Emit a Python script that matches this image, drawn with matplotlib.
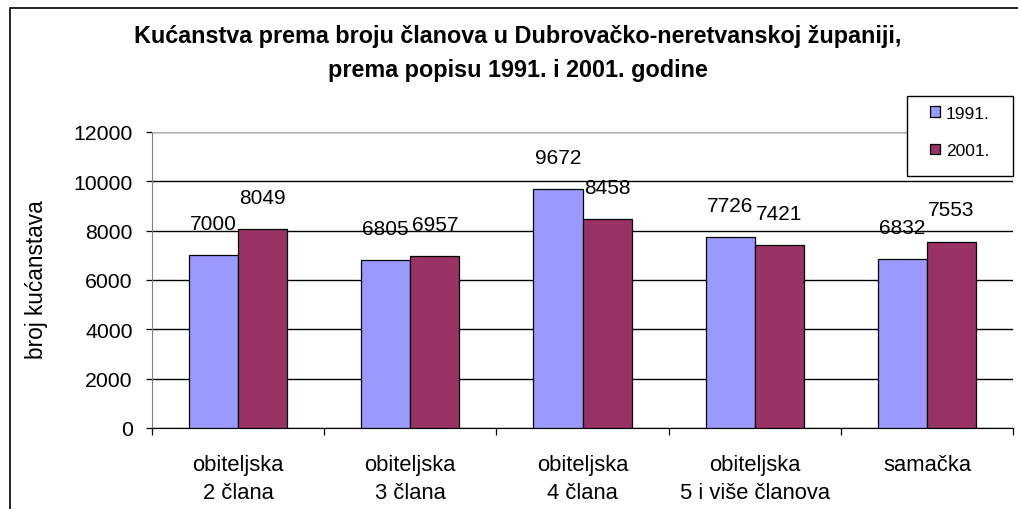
import matplotlib
matplotlib.use("Agg")
import matplotlib.pyplot as plt
from matplotlib.patches import Rectangle, Patch
import numpy as np

categories = ["obiteljska\n2 člana", "obiteljska\n3 člana", "obiteljska\n4 člana",
              "obiteljska\n5 i više članova", "samačka"]
series_names = ["1991.", "2001."]
values_1991 = [7000, 6805, 9672, 7726, 6832]
values_2001 = [8049, 6957, 8458, 7421, 7553]
yticks = [0, 2000, 4000, 6000, 8000, 10000, 12000]
title_lines = ["Kućanstva prema broju članova u Dubrovačko-neretvanskoj županiji,",
               "prema popisu 1991. i 2001. godine"]
ylabel = "broj kućanstava"

colors = ["#9999FF", "#993366"]

plt.rcParams['font.family'] = ['Liberation Sans', 'DejaVu Sans']

W, H = 1018, 510
fig = plt.figure(figsize=(W / 100, H / 100), dpi=100)

# outer frame
fig.patches.append(Rectangle((10 / W, -0.01), 1.02, 1 - 9 / H + 0.01, transform=fig.transFigure,
                             fill=False, edgecolor="black", linewidth=1.2))

ax = fig.add_axes([152 / W, 1 - 429 / H, (1013 - 152) / W, (429 - 133) / H])

x = np.arange(len(categories))
bw = 0.285
b1 = ax.bar(x - bw / 2, values_1991, bw, color=colors[0], edgecolor="black", linewidth=0.9, zorder=3)
b2 = ax.bar(x + bw / 2, values_2001, bw, color=colors[1], edgecolor="black", linewidth=0.9, zorder=3)

for bars, vals in ((b1, values_1991), (b2, values_2001)):
    for rect, v in zip(bars, vals):
        ax.annotate(str(v), (rect.get_x() + rect.get_width() / 2, v),
                    xytext=(0, 16), textcoords="offset points",
                    ha="center", va="bottom", fontsize=15)

ax.set_xlim(-0.5, len(categories) - 0.5)
ax.set_ylim(0, 12000)
ax.set_yticks(yticks)
ax.set_yticklabels([str(t) for t in yticks], fontsize=15.3)
ax.yaxis.grid(True, color="black", linewidth=1.0, zorder=0)
ax.set_axisbelow(True)

ax.set_xticks(x)
ax.set_xticklabels(categories, fontsize=15.8, linespacing=1.4)
ax.set_xticks(np.arange(len(categories) + 1) - 0.5, minor=True)
ax.tick_params(axis="x", which="major", length=0, pad=19)
ax.tick_params(axis="x", which="minor", length=5, color="black", width=0.9)
ax.tick_params(axis="y", length=4, width=0.9, pad=10)

ax.spines["right"].set_visible(False)
ax.spines["top"].set_color("#b0b0b0")
ax.spines["left"].set_color("#808080")
ax.spines["bottom"].set_color("black")

fig.text(37 / W, 1 - 280 / H, ylabel, rotation=90, ha="center", va="center", fontsize=16.3)

fig.text(518 / W, 1 - 37 / H, title_lines[0], ha="center", va="center", fontsize=16.8, fontweight="bold")
fig.text(518 / W, 1 - 71 / H, title_lines[1], ha="center", va="center", fontsize=16.8, fontweight="bold")

# legend
fig.patches.append(Rectangle((907 / W, 1 - 177 / H), (1013 - 907) / W, (177 - 97) / H,
                             transform=fig.transFigure, facecolor="white",
                             edgecolor="black", linewidth=1.0, zorder=5))
handles = [Patch(facecolor=c, edgecolor="black", linewidth=0.9) for c in colors]
leg = fig.legend(handles, series_names, loc="center", bbox_to_anchor=(960 / W, 1 - 133 / H),
                 frameon=False, fontsize=12.5, handlelength=0.55, handleheight=0.55,
                 handletextpad=0.35, labelspacing=1.3)
leg.set_zorder(6)

fig.savefig("out.png", dpi=100)
